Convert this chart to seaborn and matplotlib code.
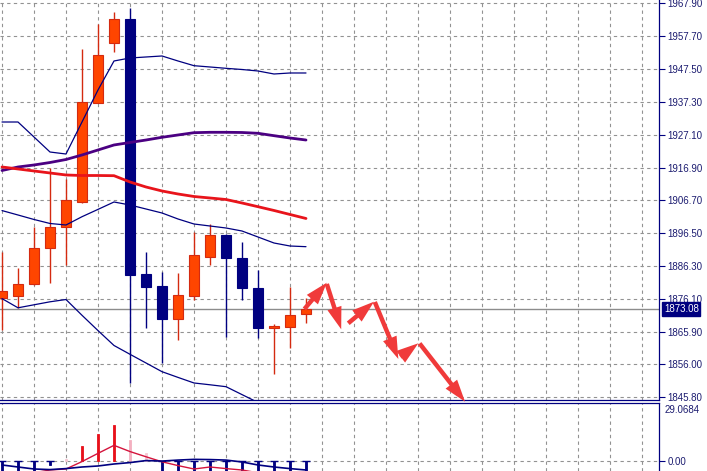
import numpy as np
import pandas as pd
import matplotlib
matplotlib.use("Agg")
import matplotlib.pyplot as plt
import matplotlib.transforms as mtransforms
from matplotlib.patches import FancyArrowPatch
import seaborn as sns

# ---------------- data ----------------
opens  = [1876.39, 1877.19, 1880.82, 1891.88, 1898.58, 1906.32, 1937.00, 1955.60, 1962.94, 1883.92,
          1880.20, 1869.88, 1877.19, 1889.09, 1896.00, 1888.78, 1879.49, 1867.09, 1867.58, 1871.43]
highs  = [1890.73, 1885.78, 1898.58, 1916.77, 1913.36, 1953.55, 1961.39, 1965.20, 1966.35, 1890.83,
          1884.63, 1884.23, 1896.93, 1899.41, 1896.31, 1893.93, 1885.16, 1868.42, 1879.80, 1876.39]
lows   = [1866.56, 1873.38, 1880.60, 1881.22, 1886.70, 1906.00, 1936.80, 1952.81, 1850.14, 1867.27,
          1856.24, 1863.46, 1875.86, 1886.70, 1864.48, 1875.86, 1863.99, 1852.93, 1860.89, 1868.83]
closes = [1878.74, 1880.82, 1891.97, 1898.58, 1906.85, 1937.31, 1951.79, 1962.94, 1883.61, 1879.98,
          1869.88, 1877.41, 1889.81, 1896.00, 1888.78, 1879.49, 1867.09, 1867.80, 1871.21, 1873.08]

band_upper = [1931.02, 1931.02, 1926.37, 1921.72, 1921.10, 1931.02, 1940.94, 1949.93, 1950.86, 1951.17,
              1951.48, 1949.93, 1948.47, 1948.07, 1947.66, 1947.29, 1946.83, 1945.90, 1946.21, 1946.21]
band_mid   = [1915.99, 1917.08, 1917.70, 1918.47, 1919.40, 1920.80, 1922.35, 1923.90, 1924.67, 1925.44,
              1926.28, 1927.00, 1927.71, 1927.83, 1927.83, 1927.77, 1927.52, 1926.78, 1926.06, 1925.44]
ma_red     = [1917.08, 1916.46, 1915.84, 1915.22, 1914.60, 1914.44, 1914.44, 1914.38, 1912.43, 1910.88,
              1909.64, 1908.71, 1907.93, 1907.47, 1907.00, 1905.92, 1904.77, 1903.60, 1902.36, 1901.12]
band_inner = [1903.57, 1902.20, 1900.81, 1899.57, 1899.10, 1901.67, 1903.94, 1906.23, 1905.30, 1904.06,
              1902.82, 1900.96, 1899.41, 1898.79, 1898.17, 1897.24, 1895.38, 1893.52, 1892.59, 1892.38]
band_lower = [1876.29, 1873.44, 1874.37, 1875.30, 1876.01, 1871.12, 1866.38, 1861.76, 1859.03, 1856.34,
              1853.64, 1851.87, 1850.14, 1849.58, 1848.99, 1846.54, 1844.09]

current_price = 1873.08
price_ticks = [1967.90, 1957.70, 1947.50, 1937.30, 1927.10, 1916.90, 1906.70,
               1896.50, 1886.30, 1876.10, 1865.90, 1856.00, 1845.80]
price_labels = ["1967.90", "1957.70", "1947.50", "1937.30", "1927.10", "1916.90", "1906.70",
                "1896.50", "1886.30", "1876.10", "1865.90", "1856.00", "1845.80"]

# lower indicator window
osc_hist = [-7.0, -7.0, -7.0, -2.1, 0.7, 7.3, 13.2, 17.7, 10.3, 3.8,
            -7.0, -7.0, -7.0, -7.0, -7.0, -7.0, -7.0, -7.0, -7.0, -7.0]
osc_kind = ["neg", "neg", "neg", "neg", "fade2", "pos", "pos", "pos", "fade1", "fade2",
            "neg", "neg", "neg", "neg", "neg", "neg", "neg", "neg", "neg", "neg"]
osc_red  = [-7.0, -7.0, -6.0, -4.6, -4.1, -0.4, 3.7, 7.7, 4.6, 2.0,
            -0.5, -2.4, -4.1, -3.1, -3.9, -4.6, -6.0, -6.5, -7.0, -7.0]
osc_navy = [-2.1, -3.1, -4.1, -4.4, -3.9, -3.1, -2.6, -1.6, -0.9, 0.1,
            -0.15, 0.35, 0.7, 0.6, 0.35, -0.6, -2.1, -3.1, -3.9, -4.6]
osc_max_label = "29.0684"
osc_top = 29.0684

# forecast arrows: (start index, start price, end index, end price)
arrow_x0 = [18.9, 20.3, 21.64, 23.3, 24.9, 26.1]
arrow_y0 = [1873.07, 1880.82, 1868.64, 1875.24, 1858.20, 1862.38]
arrow_x1 = [20.3, 21.2, 23.25, 24.77, 26.02, 28.94]
arrow_y1 = [1881.22, 1866.78, 1875.33, 1857.58, 1862.44, 1844.34]

# ---------------- style ----------------
sns.set_style("white")
plt.rcParams["font.family"] = ["Liberation Sans", "DejaVu Sans"]

NAVY = "#000080"
BULL = "#FF4500"
BULL_EDGE = "#D42A10"
GRID = "#929292"
TXT = "#1c1c70"

W, H = 707, 471
fig = plt.figure(figsize=(W / 100, H / 100), dpi=100)
fig.patch.set_facecolor("white")
MAIN_BOTTOM_PX = 399.5
LOW_TOP_PX = 402.5
ax = fig.add_axes([0, 1 - MAIN_BOTTOM_PX / H, 659 / W, MAIN_BOTTOM_PX / H])
ax2 = fig.add_axes([0, 0, 659 / W, (H - LOW_TOP_PX) / H])

idx = np.arange(len(opens))
xlim = (-2 / 16, 657 / 16)

# ---------------- main panel ----------------
df = pd.DataFrame({"i": idx, "o": opens, "h": highs, "l": lows, "c": closes,
                   "up": band_upper, "mid": band_mid, "ma": ma_red, "inner": band_inner})
bull = df["c"] >= df["o"]

for sub, is_bull in ((df[bull], True), (df[~bull], False)):
    col = BULL_EDGE if is_bull else NAVY
    ax.vlines(sub["i"], sub["l"], sub["h"], color=col, lw=1.0, zorder=2)
    bottoms = np.minimum(sub["o"], sub["c"])
    heights = np.maximum(np.abs(sub["c"] - sub["o"]), 0.35)
    ax.bar(sub["i"], heights, bottom=bottoms, width=0.6,
           color=BULL if is_bull else NAVY, edgecolor=col, linewidth=0.8, zorder=3)

sns.lineplot(data=df, x="i", y="up", ax=ax, color=NAVY, lw=0.9, sort=False, estimator=None, zorder=4)
sns.lineplot(data=df, x="i", y="inner", ax=ax, color=NAVY, lw=0.9, sort=False, estimator=None, zorder=4)
sns.lineplot(x=idx[:len(band_lower)], y=band_lower, ax=ax, color=NAVY, lw=0.9, sort=False,
             estimator=None, zorder=4)
sns.lineplot(data=df, x="i", y="mid", ax=ax, color="#4B0082", lw=2.0, sort=False, estimator=None, zorder=4)
sns.lineplot(data=df, x="i", y="ma", ax=ax, color="#E8141B", lw=2.0, sort=False, estimator=None, zorder=4)

ax.axhline(current_price, color="#8c8c8c", lw=1.0, zorder=1.5)

for x0, y0, x1, y1 in zip(arrow_x0, arrow_y0, arrow_x1, arrow_y1):
    arr = FancyArrowPatch((x0, y0), (x1, y1),
                          arrowstyle="simple,head_length=1.6,head_width=1.05,tail_width=0.32",
                          mutation_scale=10, color="#F03A3A", lw=0, shrinkA=0, shrinkB=0,
                          zorder=6, clip_on=False)
    ax.add_patch(arr)

ax.set_xlim(*xlim)
ax.set_ylim(1845.02, 1968.83)
ax.set_xticks(np.arange(0, 41, 2))
ax.set_yticks(price_ticks)
ax.set_yticklabels(price_labels)
ax.yaxis.tick_right()
ax.tick_params(axis="x", length=0, labelbottom=False)
ax.tick_params(axis="y", direction="out", length=4, width=0.8, color=NAVY,
               labelsize=7, labelcolor=TXT, pad=2)
ax.grid(True, color=GRID, lw=0.8, ls=(0, (3, 3)))
ax.set_axisbelow(True)
ax.set_xlabel("")
ax.set_ylabel("")
for s in ("left", "top"):
    ax.spines[s].set_visible(False)
for s in ("right", "bottom"):
    ax.spines[s].set_visible(True)
    ax.spines[s].set_color(NAVY)
    ax.spines[s].set_linewidth(0.9)

trans = mtransforms.blended_transform_factory(ax.transAxes, ax.transData)
ax.annotate("1873.08", xy=(1.0, current_price), xycoords=trans,
            xytext=(3.5, 0), textcoords="offset points", ha="left", va="center",
            fontsize=7, color="white", zorder=10, annotation_clip=False,
            bbox=dict(boxstyle="square,pad=0.18", fc=NAVY, ec=NAVY))

# ---------------- lower panel ----------------
dfo = pd.DataFrame({"i": idx, "hist": osc_hist, "kind": osc_kind, "red": osc_red, "navy": osc_navy})
kind_colors = {"neg": NAVY, "pos": "#E8101A", "fade1": "#F4B0C0", "fade2": "#F6C8D4"}
bar_cols = [kind_colors[k] for k in dfo["kind"]]
ax2.bar(dfo["i"], dfo["hist"], width=0.16, color=bar_cols, edgecolor=bar_cols, linewidth=0.6, zorder=3)
neg_i = dfo["i"][dfo["kind"] == "neg"].to_numpy()
ax2.hlines(np.zeros(len(neg_i)), neg_i - 0.22, neg_i + 0.22, color=NAVY, lw=1.0, zorder=3)
sns.lineplot(data=dfo, x="i", y="red", ax=ax2, color="#D4143C", lw=1.0, sort=False, estimator=None, zorder=4)
sns.lineplot(data=dfo, x="i", y="navy", ax=ax2, color=NAVY, lw=1.2, sort=False, estimator=None, zorder=4)

ax2.set_xlim(*xlim)
ax2.set_ylim(-5.10, osc_top)
ax2.set_xticks(np.arange(0, 41, 2))
ax2.set_yticks([0])
ax2.set_yticklabels(["0.00"])
ax2.yaxis.tick_right()
ax2.tick_params(axis="x", length=0, labelbottom=False)
ax2.tick_params(axis="y", direction="out", length=4, width=0.8, color=NAVY,
                labelsize=7, labelcolor=TXT, pad=2)
ax2.grid(True, color=GRID, lw=0.8, ls=(0, (3, 3)))
ax2.set_axisbelow(True)
ax2.set_xlabel("")
ax2.set_ylabel("")
for s in ("left", "bottom"):
    ax2.spines[s].set_visible(False)
for s in ("right", "top"):
    ax2.spines[s].set_visible(True)
    ax2.spines[s].set_color(NAVY)
    ax2.spines[s].set_linewidth(0.9)
trans2 = mtransforms.blended_transform_factory(ax2.transAxes, ax2.transAxes)
ax2.annotate(osc_max_label, xy=(1.0, 1.0), xycoords=trans2, xytext=(4, -1.5),
             textcoords="offset points", ha="left", va="top", fontsize=7, color=TXT,
             annotation_clip=False)

fig.savefig("out.png", dpi=100, facecolor="white")
